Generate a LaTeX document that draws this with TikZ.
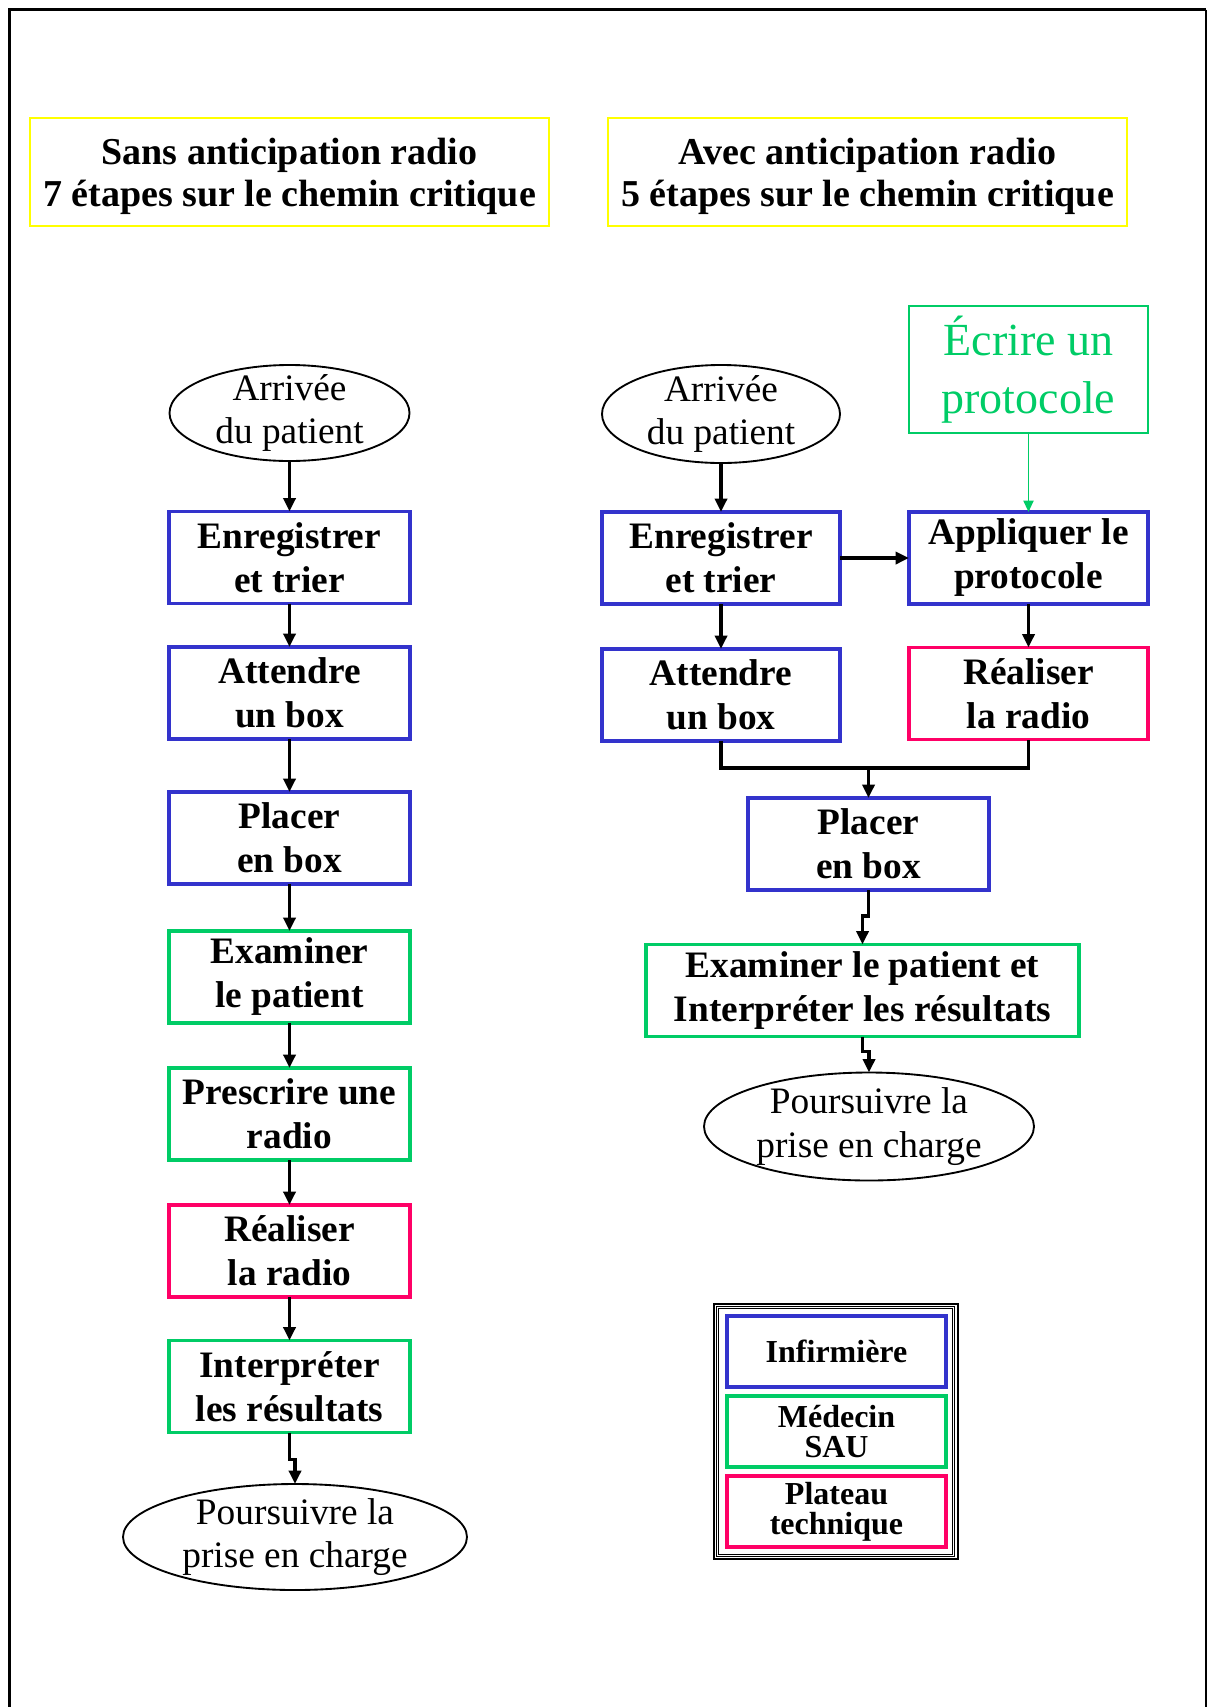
\documentclass[tikz,border=0pt]{standalone}
\usepackage{fontspec}
\setmainfont{Liberation Serif}
\usetikzlibrary{arrows.meta,shapes.geometric}

\definecolor{nurseblue}{RGB}{51,51,204}
\definecolor{docgreen}{RGB}{0,204,102}
\definecolor{techred}{RGB}{255,0,102}
\definecolor{headyellow}{RGB}{255,255,0}

\newcommand{\px}{0.75pt}

\begin{document}
\begin{tikzpicture}[x=0.75pt,y=-0.75pt,
  every node/.style={inner sep=0pt, outer sep=0pt},
  dims/.style 2 args={minimum width=#1*\px, minimum height=#2*\px},
  headbox/.style={rectangle, draw=headyellow, line width=1.5pt},
  headtext/.style={font=\fontsize{28.5}{31.5}\selectfont\bfseries, align=center},
  task/.style={rectangle, draw, line width=2.4pt,
    font=\fontsize{28}{33}\selectfont\bfseries, align=center},
  nurse/.style={task, draw=nurseblue},
  doctor/.style={task, draw=docgreen},
  tech/.style={task, draw=techred},
  endpoint/.style={ellipse, draw, line width=1.4pt},
  plain/.style={font=\fontsize{28}{32.5}\selectfont, align=center},
  keybox/.style={rectangle, line width=2.4pt,
    font=\fontsize{24}{22.5}\selectfont\bfseries, align=center},
  flow/.style={line width=2.7pt, -{Triangle[length=10pt,width=9pt]}},
  flowline/.style={line width=2.9pt},
  protoflow/.style={draw=docgreen, line width=1.4pt,
    -{Triangle[length=8.5pt,width=7.5pt]}}
]
\useasboundingbox (0,0) rectangle (1207,1707);

% page frame
\draw[line width=2.25pt] (9.5,1707) -- (9.5,9.5) -- (1206,9.5);
\draw[line width=1.2pt] (1206,9.5) -- (1206,1707);

% headings
\node[headbox, dims={519}{108}] (hl) at (289.5,172) {};
\node[headtext] (hlt) at (289.5,176)
  {Sans anticipation radio\\7 étapes sur le chemin critique};
\node[headbox, dims={519}{108}] (hr) at (867.5,172) {};
\node[headtext] (hrt) at (867.5,176)
  {Avec anticipation radio\\5 étapes sur le chemin critique};

% ---- left chain: without anticipation ----
\node[endpoint, dims={240}{96}] (L1) at (289.5,413) {};
\node[plain] (L1t) at (L1) {Arrivée\\du patient};
\node[nurse, dims={241}{92}] (L2) at (289.5,557.5) {Enregistrer\\et trier};
\node[nurse, dims={241}{92}] (L3) at (289.5,693) {Attendre\\un box};
\node[nurse, dims={241}{92}] (L4) at (289.5,838) {Placer\\en box};
\node[doctor, dims={241}{92}] (L5) at (289.5,977) {Examiner\\le patient};
\node[doctor, dims={241}{92}] (L6) at (289.5,1114) {Prescrire une\\radio};
\node[tech, dims={241}{92}] (L7) at (289.5,1251) {Réaliser\\la radio};
\node[doctor, dims={241}{92}] (L8) at (289.5,1386.5) {Interpréter\\les résultats};
\node[endpoint, dims={344}{106}] (L9) at (295,1537) {};
\node[plain] (L9t) at (L9) {Poursuivre la\\prise en charge};

\draw[flow] (L1.south) -- (L2.north);
\draw[flow] (L2.south) -- (L3.north);
\draw[flow] (L3.south) -- (L4.north);
\draw[flow] (L4.south) -- (L5.north);
\draw[flow] (L5.south) -- (L6.north);
\draw[flow] (L6.south) -- (L7.north);
\draw[flow] (L7.south) -- (L8.north);
\draw[flow] (L8.south) -- ++(0,27) -| (L9.north);

% ---- right chain: with anticipation ----
\node[endpoint, dims={238}{98}] (R1) at (721,414) {};
\node[plain] (R1t) at (R1) {Arrivée\\du patient};
\node[nurse, dims={238}{92}] (R2) at (721,558) {Enregistrer\\et trier};
\node[nurse, dims={238}{92}] (R3) at (721,695) {Attendre\\un box};
\node[rectangle, draw=docgreen, line width=1.4pt, dims={239}{127},
  font=\fontsize{34.5}{43}\selectfont, text=docgreen, align=center]
  (P0) at (1028.5,369.5) {Écrire un\\protocole};
\node[nurse, dims={239}{92}] (P1) at (1028.5,558) {Appliquer le\\protocole};
\node[tech, dims={239}{92}] (P2) at (1028.5,693.5) {Réaliser\\la radio};
\node[nurse, dims={241}{92}] (R4) at (868.5,844) {Placer\\en box};
\node[doctor, dims={433}{92}] (R5) at (862.5,990.5)
  {Examiner le patient et\\Interpréter les résultats};
\node[endpoint, dims={330}{108}] (R6) at (869,1126.5) {};
\node[plain] (R6t) at (R6) {Poursuivre la\\prise en charge};

\draw[flow] (R1.south) -- (R2.north);
\draw[flow] (R2.south) -- (R3.north);
\draw[flow] (R2.east) -- (P1.west);
\draw[protoflow] (P0.south) -- (P1.north);
\draw[flow] (P1.south) -- (P2.north);
\draw[flowline] (R3.south) -- ++(0,27) coordinate (join) -| (P2.south);
\draw[flow] (join -| R4.north) -- (R4.north);
\draw[flow] (R4.south) -- ++(0,26) -| (R5.north);
\draw[flow] (R5.south) -- ++(0,15) -| (R6.north);

% ---- key ----
\draw[line width=1.5pt] (713.7,1303.7) rectangle (957.7,1559.3);
\draw[line width=0.75pt] (716.5,1306.5) rectangle (954.9,1556.5);
\draw[line width=0.75pt] (718.8,1308.8) rectangle (952.6,1554.2);
\node[keybox, draw=nurseblue, dims={219}{71}] (k1) at (836.5,1351.5) {Infirmière};
\node[keybox, draw=docgreen, dims={219}{71}] (k2) at (836.5,1431.5) {Médecin\\SAU};
\node[keybox, draw=techred, dims={219}{71}] (k3) at (836.5,1511.5) {Plateau\\technique};
\end{tikzpicture}
\end{document}
